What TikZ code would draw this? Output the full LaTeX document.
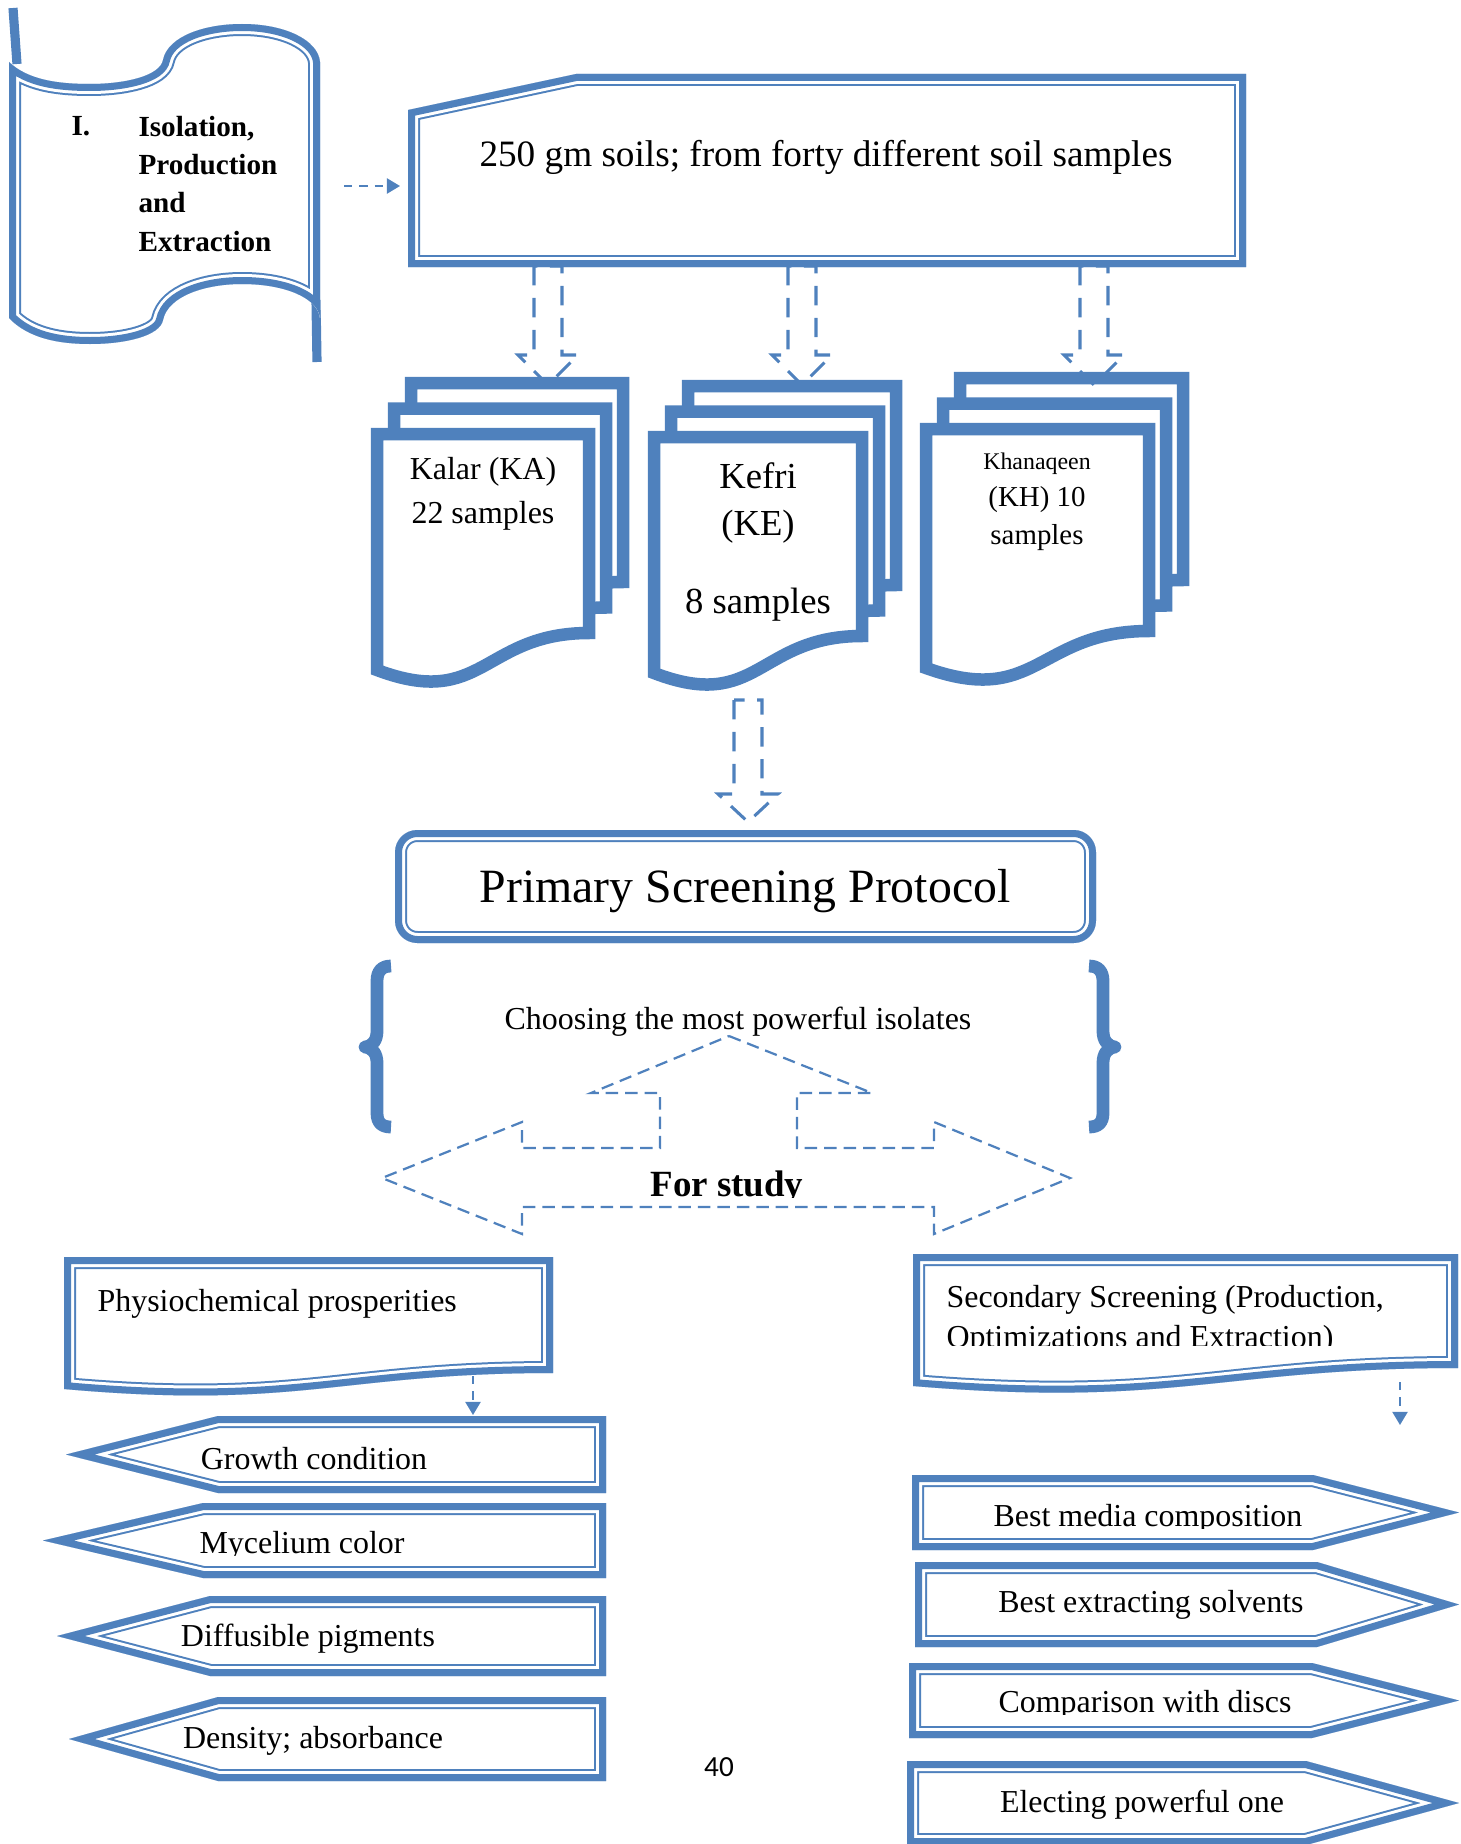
\documentclass[tikz,border=0pt]{standalone}
\usepackage{fontspec}
\setmainfont{Liberation Serif}
\newfontfamily\pagenumfont{Carlito}
\usetikzlibrary{positioning, arrows.meta, calc}
\definecolor{rimB}{RGB}{79,129,189}

\newcommand{\rimshape}[1]{%
  \fill[white] #1;
  \begin{scope}
    \clip #1;
    \draw[rimB, line width=8.64pt] #1;
    \draw[white, line width=7.2pt] #1;
    \draw[rimB, line width=5.04pt] #1;
  \end{scope}}

\tikzset{
  sheet/.style  ={draw=rimB, fill=white, line width=4.5pt, line join=miter},
  hollow/.style ={draw=rimB, line width=1.1pt, dash pattern=on 7pt off 4.5pt},
  outline/.style={draw=rimB, line width=0.8pt, dash pattern=on 4.5pt off 2.5pt},
  hint/.style   ={draw=rimB, line width=0.75pt, dash pattern=on 3pt off 2.5pt,
                  -{Triangle[length=4.7pt, width=5.4pt]}},
  curl/.style   ={draw=rimB, line width=4.6pt, line join=round},
  tail/.style   ={draw=rimB, line width=3.3pt},
  txt/.style    ={inner sep=0pt, font=\fontsize{11.5}{15}\selectfont},
  bigtxt/.style ={inner sep=0pt, font=\fontsize{13.4}{16}\selectfont},
  headtxt/.style={inner sep=0pt, font=\bfseries\fontsize{10.5}{13.8}\selectfont},
}

\begin{document}
\begin{tikzpicture}[x=0.36pt, y=-0.36pt]
\useasboundingbox (0,0) rectangle (1460,1844);

% banner
\draw[tail] (13,8) -- (17,64);
\draw[tail] (316,300) -- (317,362);
\rimshape{(9,62) .. controls (28,80) and (58,84) .. (90,84) .. controls (125,84) and (160,76) .. (163,60) .. controls (168,36) and (205,24) .. (242,24) .. controls (285,24) and (318,40) .. (320,62) -- (320,318) .. controls (318,298) and (285,284) .. (242,284) .. controls (205,284) and (168,296) .. (163,320) .. controls (160,336) and (125,344) .. (90,344) .. controls (58,344) and (28,338) .. (9,318) -- cycle}
\node[headtxt, anchor=base west] (roman) at (71,136) {I.};
\node[headtxt, anchor=base west, align=left] (isol) at (138,251)
  {Isolation,\\Production\\and\\Extraction};

% soil samples
\rimshape{(408,110) -- (576,74) -- (1246,74) -- (1246,267) -- (408,267) -- cycle}
\node[bigtxt, anchor=base] (soil) at (826,167)
  {250 gm soils; from forty different soil samples};
\coordinate (banner-e) at (344,186);
\coordinate (soil-w) at (400,186);
\draw[hint] (banner-e) -- (soil-w);

% stacks
\foreach \sx/\sy/\sw/\sh in {371/428/224/211, 648/431/220/211, 920/423/235/214}
  \foreach \k in {2,1,0}
    \draw[sheet, shift={(\sx+17*\k,\sy-25.5*\k)}] (6,6) -- (\sw-6,6) -- (\sw-6,\sh-6)
      .. controls (\sw/2,\sh-6) and (\sw/2,\sh+71) .. (6,\sh+31) -- cycle;

\node[inner sep=0pt, font=\fontsize{11.5}{15.5}\selectfont, align=center, anchor=base]
  (kalar) at (483,523) {Kalar (KA)\\22 samples};
\node[inner sep=0pt, font=\fontsize{13.2}{16.9}\selectfont, align=center, anchor=base]
  (kefri) at (758,613) {Kefri\\(KE)\\[11pt]8 samples};
\node[inner sep=0pt, font=\fontsize{10.4}{13.5}\selectfont, align=center, anchor=base]
  (khan) at (1037,544) {{\fontsize{8.6}{13.5}\selectfont Khanaqeen}\\(KH) 10\\samples};

\foreach \cx/\ya/\yb/\yc in {548/266/355/385, 802/266/355/385, 1094/266/355/385, 748/700/794/822}
  \draw[hollow] (\cx-14,\ya) -- (\cx-14,\yb) -- (\cx-30,\yb) -- (\cx,\yc)
    -- (\cx+30,\yb) -- (\cx+14,\yb) -- (\cx+14,\ya) -- cycle;

% primary screening
\rimshape{[rounded corners=8pt] (395,830) rectangle (1096,943)}
\node[inner sep=0pt, font=\fontsize{17.2}{20}\selectfont, anchor=base]
  (primary) at (745,902) {Primary Screening Protocol};

\draw[curl] (391,966) .. controls (382,966) and (377,971) .. (377,981) -- (377,1031)
  .. controls (377,1040) and (373,1046) .. (365,1047) .. controls (373,1048) and (377,1054) .. (377,1063)
  -- (377,1113) .. controls (377,1123) and (382,1127) .. (391,1127);
\draw[curl] (1089,966) .. controls (1098,966) and (1103,971) .. (1103,981) -- (1103,1031)
  .. controls (1103,1040) and (1107,1046) .. (1115,1047) .. controls (1107,1048) and (1103,1054) .. (1103,1063)
  -- (1103,1113) .. controls (1103,1123) and (1098,1127) .. (1089,1127);
\node[txt, anchor=base] (choose) at (738,1029) {Choosing the most powerful isolates};

\draw[outline] (729,1036) -- (872,1093) -- (797,1093) -- (797,1148) -- (934,1148) -- (934,1122)
  -- (1070,1178) -- (934,1234) -- (934,1207) -- (522,1207) -- (522,1234) -- (382,1178)
  -- (522,1122) -- (522,1148) -- (660,1148) -- (660,1093) -- (591,1093) -- cycle;
\begin{scope}
  \clip (600,1150) rectangle (860,1197);
  \node[inner sep=0pt, font=\bfseries\fontsize{13.3}{16}\selectfont, anchor=base]
    (study) at (727,1196) {For study};
\end{scope}

% two branches
\rimshape{(64,1257) -- (553,1257) -- (553,1373) .. controls (340,1373) and (300,1410) .. (64,1389) -- cycle}
\node[txt, anchor=base west] (physio) at (97,1311) {Physiochemical prosperities};
\rimshape{(913,1254) -- (1458,1254) -- (1458,1368) .. controls (1221,1368) and (1176,1408) .. (913,1386) -- cycle}
\begin{scope}
  \clip (920,1262) rectangle (1450,1345.5);
  \node[inner sep=0pt, font=\fontsize{11.5}{14.4}\selectfont, anchor=base west, align=left]
    (second) at (946,1347) {Secondary Screening (Production,\\Optimizations and Extraction)};
\end{scope}

\coordinate (physio-s) at (473,1376);
\coordinate (growth-n) at (473,1415);
\draw[hint] (physio-s) -- (growth-n);
\coordinate (second-s) at (1400,1382);
\coordinate (second-t) at (1400,1425);
\draw[hint] (second-s) -- (second-t);

\foreach \tx/\sx/\tp/\bt in {66/218/1416/1493, 43/203/1503/1578, 57/210/1596/1676, 69/218/1697/1781}
  {\rimshape{(\tx,{(\tp+\bt)/2}) -- (\sx,\tp) -- (606,\tp) -- (606,\bt) -- (\sx,\bt) -- cycle}}
\foreach \lf/\sx/\tp/\bt in {912/1313/1475/1550, 915/1317/1562/1647, 909/1312/1663/1738, 907/1306/1761/1845}
  {\rimshape{(\lf,\tp) -- (\sx,\tp) -- (1459,{(\tp+\bt)/2}) -- (\sx,\bt) -- (\lf,\bt) -- cycle}}

\node[txt, anchor=base] (growth) at (314,1469) {Growth condition};
\begin{scope}
  \clip (100,1505) rectangle (600,1555);
  \node[txt, anchor=base] (myc) at (302,1553) {Mycelium color};
\end{scope}
\node[txt, anchor=base] (diff) at (308,1646) {Diffusible pigments};
\node[txt, anchor=base] (dens) at (313,1748) {Density; absorbance};

\begin{scope}
  \clip (920,1480) rectangle (1310,1528);
  \node[txt, anchor=base] (media) at (1148,1526) {Best media composition};
\end{scope}
\node[txt, anchor=base] (solv) at (1151,1612) {Best extracting solvents};
\begin{scope}
  \clip (920,1670) rectangle (1310,1714);
  \node[txt, anchor=base] (disc) at (1145,1712) {Comparison with discs};
\end{scope}
\node[txt, anchor=base] (elect) at (1142,1812) {Electing powerful one};

\node[inner sep=0pt, font=\pagenumfont\fontsize{10.5}{12}\selectfont] (pagenum) at (719,1767) {40};

\end{tikzpicture}
\end{document}
